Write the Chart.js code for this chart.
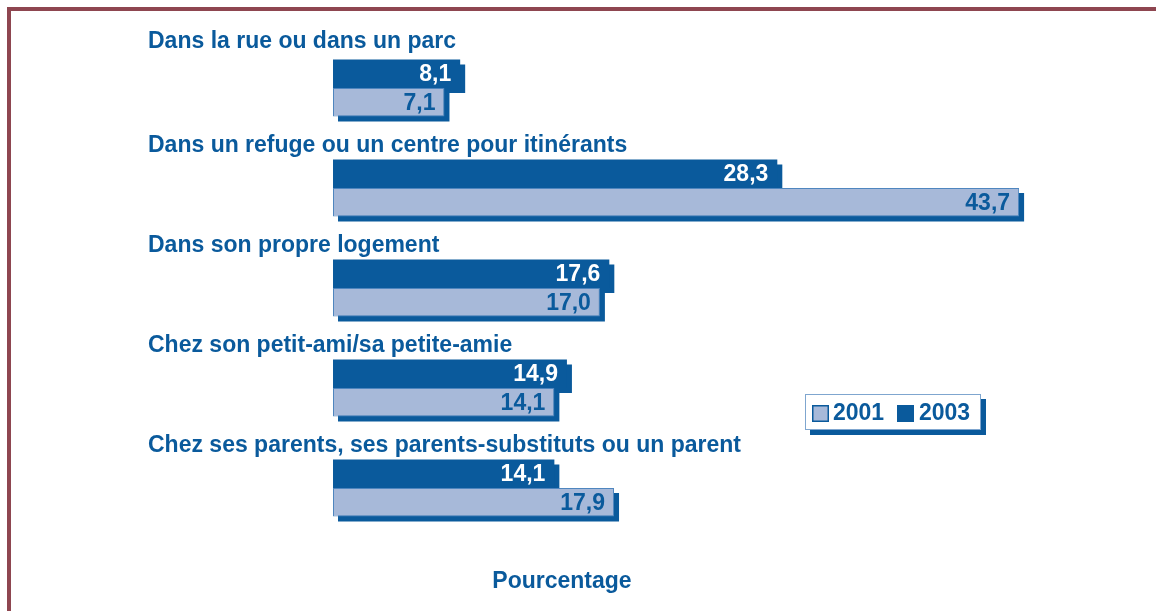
<!DOCTYPE html>
<html>
<head>
<meta charset="utf-8">
<script src="https://cdn.jsdelivr.net/npm/chart.js@4/dist/chart.umd.min.js"></script>
<style>
  html, body { margin: 0; padding: 0; background: #fff; }
  canvas { display: block; }
</style>
</head>
<body>
<canvas id="lieuxChart" width="1156" height="611"></canvas>
<script>
const categories = [
  'Dans la rue ou dans un parc',
  'Dans un refuge ou un centre pour itinérants',
  'Dans son propre logement',
  'Chez son petit-ami/sa petite-amie',
  'Chez ses parents, ses parents-substituts ou un parent'
];
const values2003 = [8.1, 28.3, 17.6, 14.9, 14.1];
const values2001 = [7.1, 43.7, 17.0, 14.1, 17.9];
const seriesLabels = ['2001', '2003'];
const axisTitle = 'Pourcentage';

const darkBlue = '#0a5a9c';
const lightBlue = '#a7b9d9';
const font = 'bold 23px "Liberation Sans", Arial, sans-serif';

const fmt = v => v.toFixed(1).replace('.', ',');

// shadows, labels, legend, frame
const decor = {
  id: 'decor',
  beforeDraw(chart) {
    const c = chart.ctx;
    c.save();
    c.fillStyle = '#8e4650';
    c.fillRect(7, 7, chart.width - 7, 4);
    c.fillRect(7, 7, 4, chart.height - 7);
    c.restore();
  },
  beforeDatasetsDraw(chart) {
    const c = chart.ctx;
    c.save();
    c.fillStyle = darkBlue;
    chart.data.datasets.forEach((ds, i) => {
      chart.getDatasetMeta(i).data.forEach(bar => {
        const h = bar.height;
        c.fillRect(bar.base + 5, bar.y - h / 2 + 5, bar.x - bar.base, h);
      });
    });
    c.restore();
  },
  afterDatasetsDraw(chart) {
    const c = chart.ctx;
    c.save();
    c.font = font;
    c.textBaseline = 'middle';
    c.textAlign = 'right';
    chart.data.datasets.forEach((ds, i) => {
      c.fillStyle = i === 0 ? '#ffffff' : darkBlue;
      chart.getDatasetMeta(i).data.forEach((bar, j) => {
        c.fillText(fmt(ds.data[j]), bar.x - 9, bar.y + 1);
      });
    });

    // category titles above each group
    const y = chart.scales.y;
    c.fillStyle = darkBlue;
    c.textAlign = 'left';
    c.textBaseline = 'alphabetic';
    categories.forEach((cat, j) => {
      c.fillText(cat, 148, y.getPixelForValue(j) - (j === 0 ? 40 : 36));
    });

    // axis title
    c.textAlign = 'center';
    c.fillText(axisTitle, 562, 588);

    // legend box
    c.fillStyle = darkBlue;
    c.fillRect(810, 399, 176, 36);
    c.fillStyle = '#fff';
    c.fillRect(805, 394, 176, 36);
    c.strokeStyle = '#7fa6cf';
    c.lineWidth = 1;
    c.strokeRect(805.5, 394.5, 175, 35);
    c.fillStyle = lightBlue;
    c.fillRect(812, 405, 17, 17);
    c.strokeStyle = darkBlue;
    c.lineWidth = 1.5;
    c.strokeRect(812.75, 405.75, 15.5, 15.5);
    c.fillStyle = darkBlue;
    c.fillRect(897, 405, 17, 17);
    c.textAlign = 'left';
    c.textBaseline = 'middle';
    c.fillText(seriesLabels[0], 833, 414);
    c.fillText(seriesLabels[1], 919, 414);
    c.restore();
  }
};

new Chart(document.getElementById('lieuxChart'), {
  type: 'bar',
  data: {
    labels: categories,
    datasets: [
      { label: seriesLabels[1], data: values2003, backgroundColor: darkBlue, borderColor: darkBlue, borderWidth: 0 },
      { label: seriesLabels[0], data: values2001, backgroundColor: lightBlue, borderColor: '#4f86bf', borderWidth: 1, borderSkipped: false }
    ]
  },
  options: {
    indexAxis: 'y',
    responsive: false,
    animation: false,
    devicePixelRatio: 1,
    layout: { padding: { left: 333, right: 38, top: 38, bottom: 73 } },
    datasets: { bar: { barPercentage: 1, categoryPercentage: 0.57 } },
    scales: {
      x: { display: false, min: 0, max: 50 },
      y: { display: false }
    },
    plugins: { legend: { display: false }, tooltip: { enabled: false } }
  },
  plugins: [decor]
});
</script>
</body>
</html>
